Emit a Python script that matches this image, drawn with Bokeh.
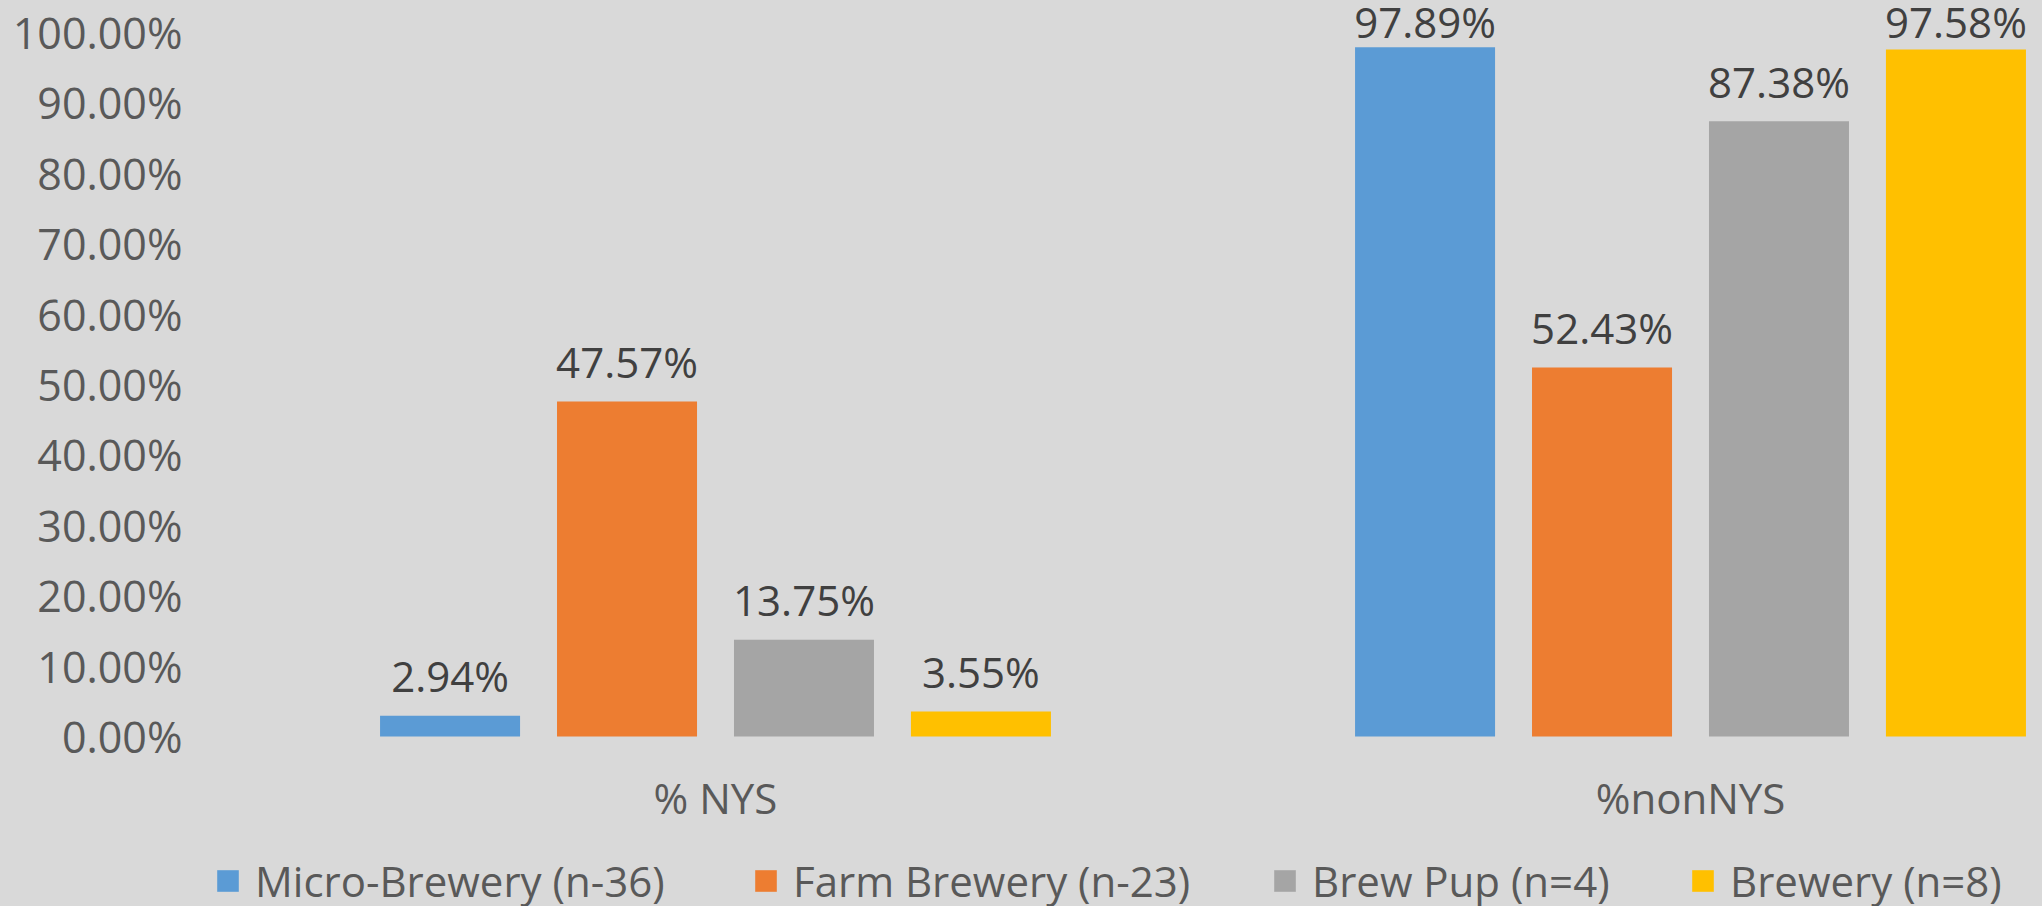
import numpy as np
from bokeh.plotting import figure
from bokeh.models import (ColumnDataSource, Range1d, FixedTicker, NumeralTickFormatter,
                          Legend, LegendItem)
from bokeh.core.properties import value
from bokeh.embed import file_html
from bokeh.resources import INLINE

# ---- data ----
categories = ["% NYS", "%nonNYS"]
series_names = ["Micro-Brewery (n-36)", "Farm Brewery (n-23)", "Brew Pup (n=4)", "Brewery (n=8)"]
micro_brewery = [0.0294, 0.9789]
farm_brewery = [0.4757, 0.5243]
brew_pup = [0.1375, 0.8738]
brewery = [0.0355, 0.9758]
y_ticks = [0.0, 0.1, 0.2, 0.3, 0.4, 0.5, 0.6, 0.7, 0.8, 0.9, 1.0]

series_values = [micro_brewery, farm_brewery, brew_pup, brewery]
colors = ["#5B9BD5", "#ED7D31", "#A5A5A5", "#FFC000"]

FONT = "Open Sans"
AXIS_COLOR = "#595959"
LABEL_COLOR = "#404040"
BG = "#D9D9D9"

# ---- layout (pixels) ----
W, H = 2042, 906
LEFT = 210            # frame left
ZERO_PX = 736         # y pixel of 0%
UNIT_PX = 704         # pixels per 100%
CAT_PX = 975.0        # pixels per category
GROUP0_PX = 715.0     # x pixel of first category centre

x_start = -(GROUP0_PX - LEFT) / CAT_PX
x_end = x_start + (W - LEFT) / CAT_PX
y_end = 1 + (ZERO_PX - UNIT_PX) / UNIT_PX
y_start = -(H - ZERO_PX) / UNIT_PX

p = figure(width=W, height=H, output_backend="svg", toolbar_location=None,
           x_range=Range1d(x_start, x_end), y_range=Range1d(y_start, y_end),
           x_axis_location=None,
           min_border_left=LEFT, min_border_right=0, min_border_top=0,
           min_border_bottom=0)
p.styles = {"background-color": BG}
p.background_fill_alpha = 0
p.border_fill_alpha = 0
p.outline_line_color = None
p.xgrid.grid_line_color = None
p.ygrid.grid_line_color = None

pitch = 0.1815
bar_w = 0.1436
gap = 40 / UNIT_PX
cap = 1.0156
x_centers = np.arange(len(categories), dtype=float)

renderers = []
for i, (name, vals, col) in enumerate(zip(series_names, series_values, colors)):
    off = (i - 1.5) * pitch
    v = np.array(vals)
    src = ColumnDataSource(dict(
        x=x_centers + off,
        top=v,
        ly=np.minimum(v + gap, cap),
        lbl=[f"{a * 100:.2f}%" for a in v],
    ))
    r = p.vbar(x="x", top="top", bottom=0, width=bar_w, source=src,
               fill_color=col, line_color=None)
    p.text(x="x", y="ly", text="lbl", source=src, text_align="center",
           text_baseline="alphabetic", text_font=value(FONT),
           text_font_size="42px", text_color=LABEL_COLOR)
    renderers.append(r)

# category labels (x axis)
cat_src = ColumnDataSource(dict(x=x_centers, y=np.full(len(categories), -61 / UNIT_PX),
                                t=categories))
p.text(x="x", y="y", text="t", source=cat_src, text_align="center",
       text_baseline="middle", text_font=value(FONT), text_font_size="42px",
       text_color=AXIS_COLOR)

# y axis
p.yaxis.ticker = FixedTicker(ticks=y_ticks)
p.yaxis.formatter = NumeralTickFormatter(format="0.00%")
ax = p.yaxis[0]
ax.axis_line_color = None
ax.major_tick_line_color = None
ax.minor_tick_line_color = None
ax.major_tick_out = 0
ax.major_tick_in = 0
ax.major_label_text_font = FONT
ax.major_label_text_font_size = "43px"
ax.major_label_text_color = AXIS_COLOR
ax.major_label_standoff = 28

# legend: one per item, pinned positions (left edge of swatch, page px)
leg_px = [214, 752, 1271, 1689]
for name, r, lx in zip(series_names, renderers, leg_px):
    lg = Legend(items=[LegendItem(label=name, renderers=[r])],
                location=(lx - LEFT, -3), orientation="horizontal",
                glyph_width=27, glyph_height=27, label_standoff=14,
                padding=0, margin=0, border_line_alpha=0, background_fill_alpha=0,
                label_text_font=FONT, label_text_font_size="42px",
                label_text_color=AXIS_COLOR)
    p.add_layout(lg, "center")

open("out.html", "w").write(file_html(p, INLINE))
